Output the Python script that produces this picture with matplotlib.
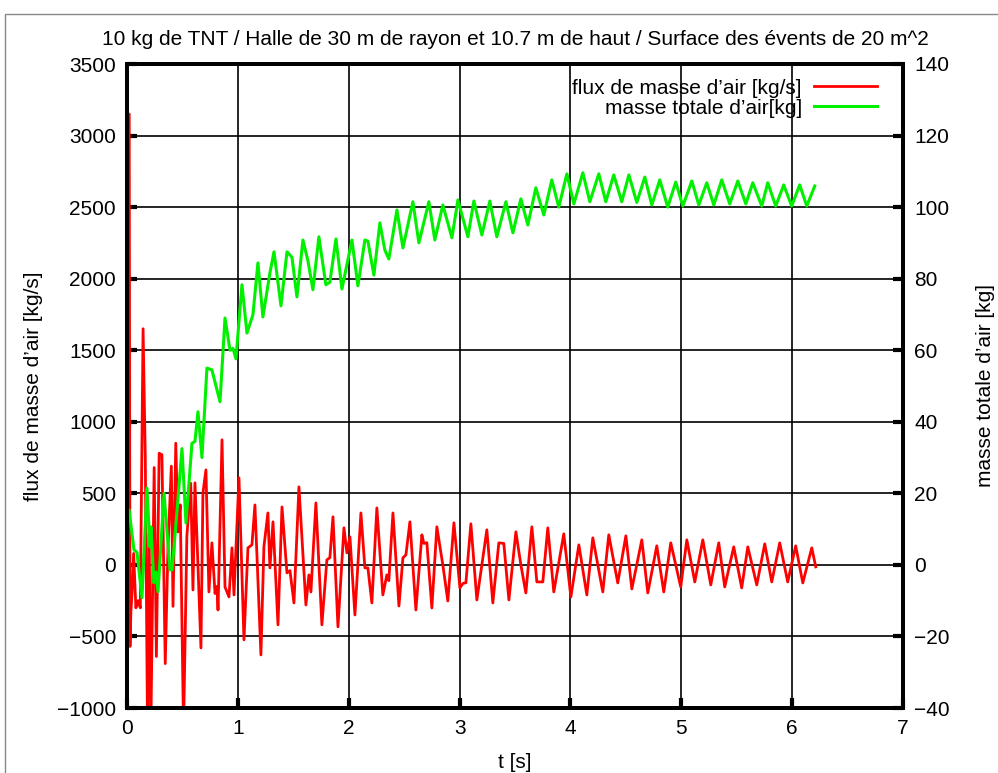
import numpy as np
import matplotlib
matplotlib.use("Agg")
import matplotlib.pyplot as plt
from matplotlib.patches import Rectangle

plt.rcParams['font.family'] = ['Liberation Sans', 'DejaVu Sans']

# air mass flow through the vents [kg/s]
t_flux = [0.0, 0.02, 0.027, 0.035, 0.045, 0.06, 0.08, 0.10, 0.12, 0.145,
          0.165, 0.185, 0.20, 0.215, 0.245, 0.265, 0.29, 0.315, 0.345, 0.37,
          0.40, 0.415, 0.44, 0.46, 0.48, 0.51, 0.54, 0.575, 0.595, 0.613,
          0.667, 0.685, 0.712, 0.739, 0.766, 0.794, 0.812, 0.821, 0.857, 0.884,
          0.92, 0.947, 0.965, 1.01, 1.055, 1.091, 1.127, 1.154, 1.208, 1.235,
          1.271, 1.289, 1.317, 1.362, 1.398, 1.443, 1.47, 1.506, 1.551, 1.614,
          1.641, 1.659, 1.704, 1.758, 1.803, 1.83, 1.858, 1.903, 1.957, 1.984,
          2.011, 2.056, 2.11, 2.146, 2.173, 2.209, 2.254, 2.308, 2.344, 2.362,
          2.399, 2.453, 2.489, 2.516, 2.552, 2.606, 2.66, 2.678, 2.705, 2.75,
          2.795, 2.849, 2.894, 2.949, 3.003, 3.03, 3.057, 3.102, 3.156, 3.201,
          3.246, 3.30, 3.354, 3.399, 3.445, 3.508, 3.553, 3.598, 3.652, 3.697,
          3.751, 3.796, 3.85, 3.94, 4.004, 4.076, 4.148, 4.202, 4.292, 4.346,
          4.427, 4.50, 4.554, 4.644, 4.698, 4.779, 4.842, 4.905, 4.995, 5.05,
          5.122, 5.194, 5.266, 5.338, 5.392, 5.473, 5.545, 5.60, 5.681, 5.753,
          5.816, 5.888, 5.96, 6.032, 6.096, 6.177, 6.213]
flux = [0, 3150, -570, -330, -200, 80, -300, -250, -300, 1650,
        750, -1150, 220, -1150, 680, -640, 780, 770, -690, 130,
        690, -290, 850, 230, 420, -1150, 200, 570, -175, 573,
        -580, 503, 664, -189, 154, -200, -150, -315, 874, -154,
        -224, 119, -210, 608, -524, 119, 140, 419, -629, 126,
        363, -21, 301, -419, 405, -56, -40, -266, 545, -280,
        -70, -189, 433, -419, 35, 50, 336, -433, 259, 84,
        196, -350, 363, -21, -21, -266, 398, -210, -70, -110,
        363, -287, 49, 70, 301, -315, 210, 150, 155, -301,
        266, 0, -252, 294, -161, -130, -125, 287, -245, 0,
        245, -266, 154, 150, -245, 231, 0, -196, 266, -119,
        -119, 259, -189, 217, -224, 140, -210, 189, -189, 210,
        -126, 203, -168, 175, -196, 133, -189, 154, -154, 175,
        -119, 175, -140, 154, -154, 126, -161, 126, -140, 147,
        -119, 154, -119, 133, -126, 119, -14]

# total mass of air vented [kg]
t_mass = [0.0, 0.018, 0.063, 0.09, 0.135, 0.18, 0.207, 0.216, 0.243, 0.261,
          0.28, 0.334, 0.388, 0.406, 0.424, 0.451, 0.496, 0.532, 0.586, 0.613,
          0.64, 0.676, 0.721, 0.766, 0.839, 0.884, 0.929, 0.956, 0.983, 1.037,
          1.082, 1.136, 1.181, 1.226, 1.289, 1.326, 1.389, 1.443, 1.488, 1.533,
          1.587, 1.632, 1.677, 1.731, 1.794, 1.83, 1.885, 1.939, 2.029, 2.083,
          2.146, 2.173, 2.227, 2.281, 2.326, 2.362, 2.435, 2.489, 2.579, 2.633,
          2.723, 2.777, 2.849, 2.931, 2.985, 3.075, 3.129, 3.201, 3.273, 3.336,
          3.418, 3.481, 3.553, 3.616, 3.688, 3.76, 3.832, 3.895, 3.968, 4.031,
          4.112, 4.175, 4.256, 4.319, 4.391, 4.463, 4.527, 4.599, 4.671, 4.734,
          4.806, 4.878, 4.95, 5.014, 5.095, 5.158, 5.23, 5.293, 5.365, 5.437,
          5.51, 5.582, 5.645, 5.726, 5.78, 5.852, 5.924, 5.996, 6.068, 6.132,
          6.204]
mass = [15, 15.4, 4.2, 3.5, -9.2, 21.5, 5, 10.6, -5, -2,
        -7.5, 20, -1.4, -1.4, 5, 15, 32.5, 11.7, 34, 34.5,
        42.8, 30, 55, 54.5, 45.6, 69, 60, 60.5, 57.6, 78.3,
        64.8, 69.9, 84.4, 69.3, 81.6, 87.5, 72.4, 87.5, 86, 74.9,
        90.8, 85, 76.9, 91.7, 78.3, 79, 91.1, 77.1, 90.8, 78,
        90.8, 90.5, 81, 95.6, 88, 85.5, 99.2, 88.6, 101.5, 90,
        101.5, 90.8, 100.6, 91.4, 102, 91.7, 101.7, 92.2, 101.7, 91.7,
        101.5, 92.8, 102.3, 95, 105.4, 97.8, 107.6, 100, 109.3, 100.9,
        109.6, 101.5, 109.3, 101.5, 109, 101.5, 109, 101.3, 108.4, 100.6,
        107.6, 100, 107, 100.3, 107.3, 100.6, 106.8, 100.6, 107.6, 100.9,
        107.3, 100.9, 106.8, 100.3, 106.8, 100.3, 106.2, 100.3, 106.2, 100.3,
        105.9]

FS = 15

fig = plt.figure(figsize=(9.98, 7.73), dpi=100)
# thin frame around the whole page
fig.patches.append(Rectangle((5 / 998, -0.01), 1.0, 1 - 14 / 773 + 0.01,
                             transform=fig.transFigure, fill=False,
                             edgecolor='#888888', lw=1.0))

ax = fig.add_axes([127 / 998, 65 / 773, 776 / 998, 644 / 773])
ax2 = ax.twinx()

l1, = ax.plot(t_flux, flux, color='#ff0000', lw=2.0, label='flux de masse d’air [kg/s]')
l2, = ax2.plot(t_mass, mass, color='#00f000', lw=2.2, label='masse totale d’air[kg]')

ax.set_xlim(0, 7)
ax.set_ylim(-1000, 3500)
ax2.set_ylim(-40, 140)
ax.set_xticks(np.arange(0, 8, 1))
ax.set_yticks(np.arange(-1000, 3501, 500))
ax2.set_yticks(np.arange(-40, 141, 20))

ax.grid(True, color='black', lw=1.2)
ax.set_axisbelow(True)
for a in (ax, ax2):
    for s in a.spines.values():
        s.set_linewidth(2.8)
    a.tick_params(direction='in', length=7, width=3, labelsize=FS, pad=8)

ax.set_xlabel('t [s]', fontsize=FS, labelpad=11)
ax.set_ylabel('flux de masse d’air [kg/s]', fontsize=FS, labelpad=10)
ax2.set_ylabel('masse totale d’air [kg]', fontsize=FS, labelpad=19, rotation=90)
ax.set_title('10 kg de TNT / Halle de 30 m de rayon et 10.7 m de haut / Surface des évents de 20 m^2',
             fontsize=FS, pad=14)

leg = ax.legend(handles=[l1, l2], loc='upper right', frameon=False, markerfirst=False,
                fontsize=FS, handlelength=3.0, borderaxespad=0.3, labelspacing=0.05,
                handletextpad=0.6, bbox_to_anchor=(0.985, 1.0))

fig.savefig('out.png', dpi=100)
